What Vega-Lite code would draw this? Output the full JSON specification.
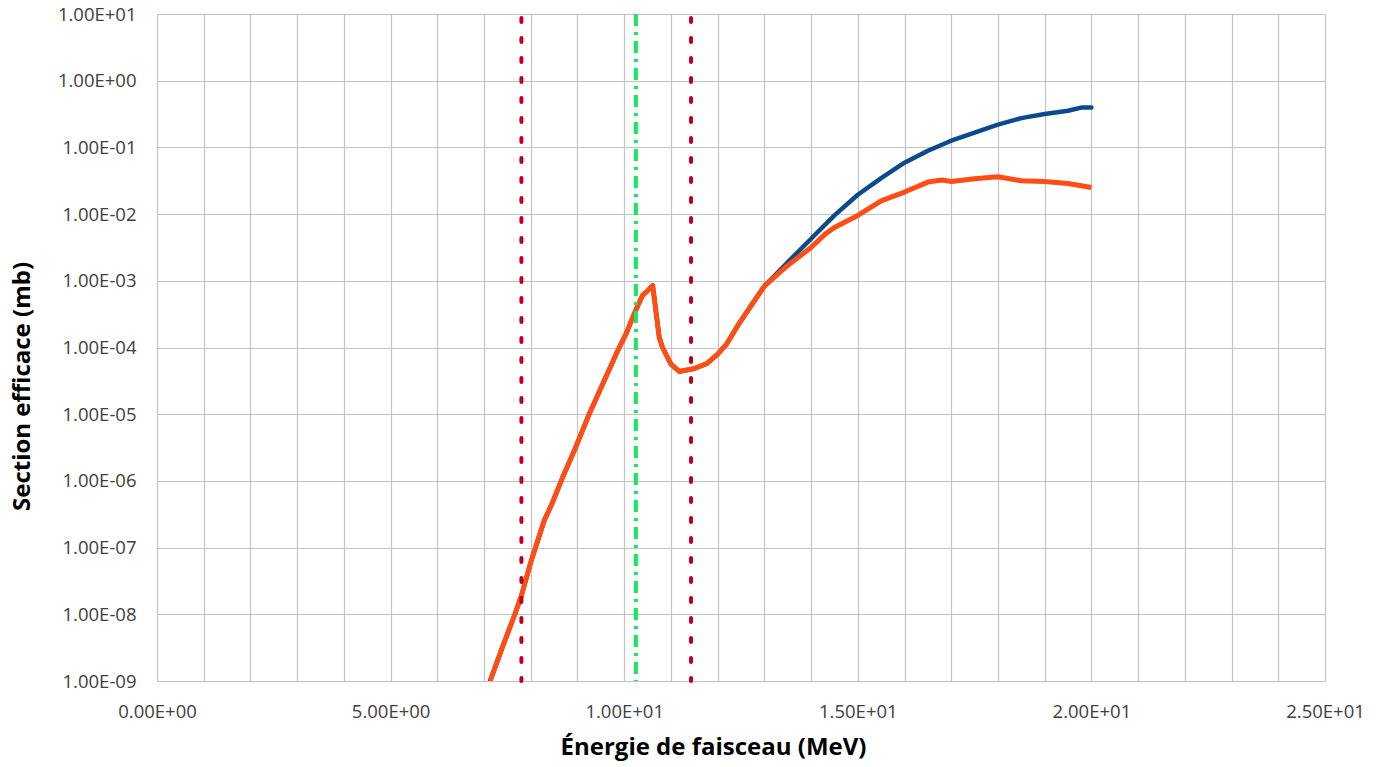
{
  "$schema": "https://vega.github.io/schema/vega-lite/v6.json",
  "width": 1168,
  "height": 667,
  "autosize": {"type": "none"},
  "padding": {"left": 157, "top": 14, "right": 63, "bottom": 86},
  "background": "white",
  "config": {
    "view": {"stroke": null},
    "font": "Open Sans"
  },
  "datasets": {
    "blue": [
      {"E": 7.13, "S": 1.00e-9}, {"E": 7.40, "S": 3.31e-9}, {"E": 7.66, "S": 1.00e-8}, {"E": 7.80, "S": 1.91e-8},
      {"E": 8.00, "S": 6.03e-8}, {"E": 8.29, "S": 2.57e-7}, {"E": 8.45, "S": 4.47e-7}, {"E": 8.68, "S": 1.12e-6},
      {"E": 8.93, "S": 2.82e-6}, {"E": 9.25, "S": 1.00e-5}, {"E": 9.57, "S": 3.16e-5}, {"E": 9.86, "S": 8.91e-5},
      {"E": 10.05, "S": 1.66e-4}, {"E": 10.21, "S": 3.16e-4}, {"E": 10.39, "S": 6.03e-4}, {"E": 10.50, "S": 7.08e-4},
      {"E": 10.61, "S": 8.51e-4}, {"E": 10.75, "S": 1.41e-4}, {"E": 10.82, "S": 1.00e-4}, {"E": 11.00, "S": 5.62e-5},
      {"E": 11.18, "S": 4.37e-5}, {"E": 11.48, "S": 4.79e-5}, {"E": 11.77, "S": 5.75e-5}, {"E": 12.00, "S": 7.94e-5},
      {"E": 12.19, "S": 1.12e-4}, {"E": 12.45, "S": 2.24e-4}, {"E": 12.69, "S": 3.98e-4}, {"E": 13.00, "S": 8.32e-4},
      {"E": 13.5, "S": 1.90e-3}, {"E": 14.0, "S": 4.27e-3}, {"E": 14.5, "S": 9.55e-3}, {"E": 15.0, "S": 1.95e-2},
      {"E": 15.5, "S": 3.47e-2}, {"E": 16.0, "S": 5.89e-2}, {"E": 16.5, "S": 8.91e-2}, {"E": 17.0, "S": 1.26e-1},
      {"E": 17.5, "S": 1.66e-1}, {"E": 18.0, "S": 2.19e-1}, {"E": 18.5, "S": 2.75e-1}, {"E": 19.0, "S": 3.16e-1},
      {"E": 19.5, "S": 3.55e-1}, {"E": 19.8, "S": 3.98e-1}, {"E": 20.0, "S": 3.98e-1}
    ],
    "orange": [
      {"E": 7.13, "S": 1.00e-9}, {"E": 7.40, "S": 3.31e-9}, {"E": 7.66, "S": 1.00e-8}, {"E": 7.80, "S": 1.91e-8},
      {"E": 8.00, "S": 6.03e-8}, {"E": 8.29, "S": 2.57e-7}, {"E": 8.45, "S": 4.47e-7}, {"E": 8.68, "S": 1.12e-6},
      {"E": 8.93, "S": 2.82e-6}, {"E": 9.25, "S": 1.00e-5}, {"E": 9.57, "S": 3.16e-5}, {"E": 9.86, "S": 8.91e-5},
      {"E": 10.05, "S": 1.66e-4}, {"E": 10.21, "S": 3.16e-4}, {"E": 10.39, "S": 6.03e-4}, {"E": 10.50, "S": 7.08e-4},
      {"E": 10.61, "S": 8.51e-4}, {"E": 10.75, "S": 1.41e-4}, {"E": 10.82, "S": 1.00e-4}, {"E": 11.00, "S": 5.62e-5},
      {"E": 11.18, "S": 4.37e-5}, {"E": 11.48, "S": 4.79e-5}, {"E": 11.77, "S": 5.75e-5}, {"E": 12.00, "S": 7.94e-5},
      {"E": 12.19, "S": 1.12e-4}, {"E": 12.45, "S": 2.24e-4}, {"E": 12.69, "S": 3.98e-4}, {"E": 13.00, "S": 8.32e-4},
      {"E": 13.5, "S": 1.70e-3}, {"E": 14.0, "S": 3.16e-3}, {"E": 14.3, "S": 5.01e-3}, {"E": 14.5, "S": 6.31e-3},
      {"E": 15.0, "S": 9.55e-3}, {"E": 15.5, "S": 1.58e-2}, {"E": 16.0, "S": 2.14e-2}, {"E": 16.5, "S": 3.02e-2},
      {"E": 16.8, "S": 3.24e-2}, {"E": 17.0, "S": 3.09e-2}, {"E": 17.5, "S": 3.39e-2}, {"E": 18.0, "S": 3.63e-2},
      {"E": 18.5, "S": 3.16e-2}, {"E": 19.0, "S": 3.09e-2}, {"E": 19.5, "S": 2.88e-2}, {"E": 20.0, "S": 2.51e-2}
    ],
    "seuils": [{"E": 7.80}, {"E": 11.43}],
    "centre": [{"E": 10.25}]
  },
  "encoding": {
    "x": {
      "field": "E", "type": "quantitative",
      "scale": {"domain": [0, 25], "nice": false, "zero": false},
      "axis": {
        "values": [0,1,2,3,4,5,6,7,8,9,10,11,12,13,14,15,16,17,18,19,20,21,22,23,24,25],
        "labelExpr": "datum.value % 5 != 0 ? '' : (datum.value == 0 ? '0.00E+00' : (datum.value < 10 ? format(datum.value, '.2f') + 'E+00' : format(datum.value / 10, '.2f') + 'E+01'))",
        "title": "Énergie de faisceau (MeV)",
        "titleFont": "Open Sans", "titleFontSize": 24, "titleFontWeight": "bold", "titleColor": "#000000",
        "titleX": 556, "titleY": 66, "titleBaseline": "middle", "titleAlign": "center",
        "labelFont": "Open Sans", "labelFontSize": 18.5, "labelColor": "#404040",
        "labelPadding": 21, "labelBaseline": "top", "labelOverlap": false, "labelFlush": false,
        "ticks": false, "domain": false,
        "grid": true, "gridColor": "#C3C3C3", "gridWidth": 1.2
      }
    },
    "y": {
      "field": "S", "type": "quantitative",
      "scale": {"type": "log", "domain": [1e-9, 10], "nice": false},
      "axis": {
        "values": [1e-9, 1e-8, 1e-7, 1e-6, 1e-5, 1e-4, 1e-3, 1e-2, 1e-1, 1, 10],
        "labelExpr": "'1.00E' + (round(log(datum.value) / LN10) < 0 ? '-' : '+') + (abs(round(log(datum.value) / LN10)) < 10 ? '0' : '') + abs(round(log(datum.value) / LN10))",
        "title": "Section efficace (mb)",
        "titleFont": "Open Sans", "titleFontSize": 24, "titleFontWeight": "bold", "titleColor": "#000000",
        "titleX": -135, "titleY": 372, "titleAngle": 270, "titleBaseline": "middle", "titleAlign": "center",
        "labelFont": "Open Sans", "labelFontSize": 18.5, "labelColor": "#404040",
        "labelPadding": 21, "labelBaseline": "middle", "labelOverlap": false, "labelFlush": false,
        "ticks": false, "domain": false,
        "grid": true, "gridColor": "#C3C3C3", "gridWidth": 1.2
      }
    }
  },
  "layer": [
    {
      "data": {"name": "blue"},
      "mark": {"type": "line", "color": "#0B4A8C", "strokeWidth": 4.5, "clip": true, "strokeCap": "round", "strokeJoin": "round"}
    },
    {
      "data": {"name": "orange"},
      "mark": {"type": "line", "color": "#FF4D14", "strokeWidth": 5, "clip": true, "strokeCap": "butt", "strokeJoin": "round"}
    },
    {
      "data": {"name": "seuils"},
      "mark": {"type": "rule", "color": "#C00018", "strokeWidth": 4, "strokeDash": [4, 16], "strokeCap": "round", "strokeDashOffset": -4},
      "encoding": {"y": null}
    },
    {
      "data": {"name": "centre"},
      "mark": {"type": "rule", "color": "#18E860", "strokeWidth": 4, "strokeDash": [12, 6, 3, 6]},
      "encoding": {"y": null}
    }
  ]
}
